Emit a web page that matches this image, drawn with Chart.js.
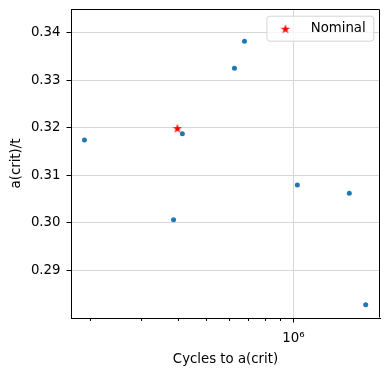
<!DOCTYPE html>
<html>
<head>
<meta charset="utf-8">
<script src="https://cdn.jsdelivr.net/npm/chart.js@4"></script>
<style>
  html, body { margin: 0; padding: 0; background: #fff; }
</style>
</head>
<body>
<canvas id="chart" width="390" height="375"></canvas>
<script>
// 데이터
var cycles = [1.91e5, 3.87e5, 4.15e5, 6.27e5, 6.79e5, 1.032e6, 1.558e6, 1.774e6];
var ratio = [0.3174, 0.3006, 0.3187, 0.3325, 0.3382, 0.3079, 0.3062, 0.2827];
var nominalCycles = [3.99e5];
var nominalRatio = [0.3199];

// 눈금
var yTicks = [0.29, 0.30, 0.31, 0.32, 0.33, 0.34];
var xMajorTicks = [1e6];
var xMinorTicks = [2e5, 3e5, 4e5, 5e5, 6e5, 7e5, 8e5, 9e5];
var xMajorLabels = ['10\u2076'];

var FONT = { family: 'DejaVu Sans', size: 13.3 };
var GRID = '#d7d7d7';

// 빨간 별 마커 (matplotlib '*' 와 비슷하게)
function makeStar(size, color) {
    var c = document.createElement('canvas');
    c.width = size; c.height = size;
    var g = c.getContext('2d');
    var cx = size / 2, cy = size / 2 + 0.5, R = size / 2, r = R * 0.4;
    g.beginPath();
    for (var i = 0; i < 10; i++) {
        var a = -Math.PI / 2 + i * Math.PI / 5;
        var rr = (i % 2) ? r : R;
        g.lineTo(cx + rr * Math.cos(a), cy + rr * Math.sin(a));
    }
    g.closePath();
    g.fillStyle = color;
    g.fill();
    return c;
}
var starImg = makeStar(10, '#ff0000');

function isMajor(v) { return xMajorTicks.indexOf(v) >= 0; }

// 위/오른쪽 테두리, 작은 눈금, 범례
var framePlugin = {
    id: 'frame',
    afterDraw: function(chart) {
        var ctx = chart.ctx, a = chart.chartArea;
        var xs = chart.scales.x;
        ctx.save();
        ctx.strokeStyle = '#000';
        ctx.lineWidth = 1;
        ctx.beginPath();
        ctx.moveTo(Math.round(a.left) + 0.5, Math.round(a.top) + 0.5);
        ctx.lineTo(Math.round(a.right) - 0.5, Math.round(a.top) + 0.5);
        ctx.lineTo(Math.round(a.right) - 0.5, Math.round(a.bottom) - 0.5);
        ctx.stroke();
        // minor ticks
        xMinorTicks.forEach(function(v) {
            var px = Math.round(xs.getPixelForValue(v)) + 0.5;
            ctx.beginPath();
            ctx.moveTo(px, a.bottom);
            ctx.lineTo(px, a.bottom + 3);
            ctx.stroke();
        });

        // legend
        var label = chart.data.datasets[0].label;
        ctx.font = FONT.size + 'px ' + FONT.family;
        var tw = ctx.measureText(label).width;
        var bw = 44.3 + tw + 7.6, bh = 25;
        var bx = a.right - 6.7 - bw, by = a.top + 6.7;
        ctx.beginPath();
        ctx.roundRect(bx + 0.5, by + 0.5, bw, bh, 3);
        ctx.fillStyle = 'rgba(255,255,255,0.8)';
        ctx.fill();
        ctx.strokeStyle = '#d4d4d4';
        ctx.stroke();
        ctx.drawImage(starImg, bx + 19 - starImg.width / 2, by + 13 - starImg.height / 2);
        ctx.fillStyle = '#000';
        ctx.textBaseline = 'middle';
        ctx.fillText(label, bx + 44.3, by + 13);
        ctx.restore();
    }
};

var ctx = document.getElementById('chart').getContext('2d');
var chart = new Chart(ctx, {
    type: 'scatter',
    data: {
        datasets: [{
            label: 'Nominal',
            data: nominalCycles.map(function(x, i) { return { x: x, y: nominalRatio[i] }; }),
            pointStyle: starImg,
            backgroundColor: '#ff0000',
            order: 0
        }, {
            label: 'data',
            data: cycles.map(function(x, i) { return { x: x, y: ratio[i] }; }),
            pointRadius: 2.5,
            backgroundColor: '#1f77b4',
            borderColor: '#1f77b4',
            borderWidth: 0,
            order: 1
        }]
    },
    options: {
        responsive: false,
        animation: false,
        devicePixelRatio: 1,
        layout: { padding: { top: 9, right: 10, left: 0, bottom: 0 } },
        plugins: {
            legend: { display: false },
            tooltip: { enabled: false }
        },
        scales: {
            x: {
                type: 'logarithmic',
                min: 1.717e5,
                max: 1.987e6,
                afterBuildTicks: function(scale) {
                    scale.ticks = xMinorTicks.concat(xMajorTicks).map(function(v) { return { value: v }; });
                },
                afterFit: function(scale) {
                    scale.height = 57;
                    scale.paddingLeft = 0;
                    scale.paddingRight = 0;
                },
                ticks: {
                    autoSkip: false,
                    maxRotation: 0,
                    padding: 8,
                    color: '#000',
                    font: FONT,
                    callback: function(v) {
                        var i = xMajorTicks.indexOf(v);
                        return i >= 0 ? xMajorLabels[i] : '';
                    }
                },
                grid: {
                    lineWidth: 1,
                    tickLength: 4.5,
                    color: function(c) { return c.tick && isMajor(c.tick.value) ? GRID : 'rgba(0,0,0,0)'; },
                    tickColor: function(c) { return c.tick && isMajor(c.tick.value) ? '#000' : 'rgba(0,0,0,0)'; }
                },
                border: { display: true, color: '#000', width: 1 },
                title: {
                    display: true,
                    text: 'Cycles to a(crit)',
                    color: '#000',
                    font: FONT,
                    padding: { top: 0, bottom: 7 }
                }
            },
            y: {
                min: 0.2799,
                max: 0.3450,
                afterBuildTicks: function(scale) {
                    scale.ticks = yTicks.map(function(v) { return { value: v }; });
                },
                afterFit: function(scale) {
                    scale.width = 71;
                    scale.paddingTop = 0;
                    scale.paddingBottom = 0;
                },
                ticks: {
                    autoSkip: false,
                    padding: 6,
                    color: '#000',
                    font: FONT,
                    callback: function(v) { return v.toFixed(2); }
                },
                grid: {
                    lineWidth: 1,
                    tickLength: 4.5,
                    color: GRID,
                    tickColor: '#000'
                },
                border: { display: true, color: '#000', width: 1 },
                title: {
                    display: true,
                    text: 'a(crit)/t',
                    color: '#000',
                    font: FONT,
                    padding: { top: 9, bottom: 0 }
                }
            }
        }
    },
    plugins: [framePlugin]
});
</script>
</body>
</html>
